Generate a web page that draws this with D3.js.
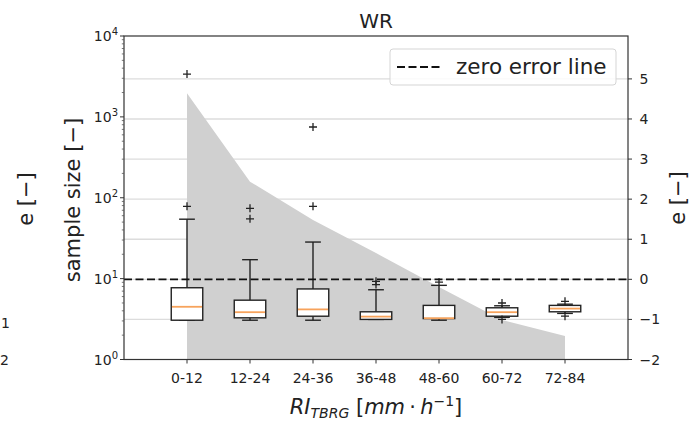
<!DOCTYPE html>
<html>
<head>
<meta charset="utf-8">
<script src="https://cdn.jsdelivr.net/npm/d3@7"></script>
<style>
  html, body { margin: 0; padding: 0; background: #fff; }
  svg { display: block; font-family: "DejaVu Sans", sans-serif; }
</style>
</head>
<body>
<svg id="chart" width="696" height="421"></svg>
<script>
// ---- data ----
const categories = ["0-12", "12-24", "24-36", "36-48", "48-60", "60-72", "72-84"];
const sampleSize = [1955, 158, 53, 20.7, 7.9, 3.08, 1.95];
const q1      = [-1.02, -0.96, -0.92, -1.00, -0.98, -0.92, -0.81];
const median  = [-0.685, -0.82, -0.75, -0.93, -0.97, -0.82, -0.73];
const q3      = [-0.21, -0.52, -0.24, -0.81, -0.65, -0.71, -0.65];
const whiskLo = [-1.02, -1.02, -1.02, -1.00, -1.02, -0.95, -0.85];
const whiskHi = [1.50, 0.49, 0.93, -0.26, -0.15, -0.66, -0.62];
const fliers  = [[1.82, 5.12], [1.51, 1.77], [1.82, 3.80], [-0.13, -0.05], [-0.07], [-0.59, -1.00], [-0.55, -0.92]];
const leftTicks = [1, 10, 100, 1000, 10000];
const leftExp = ["0", "1", "2", "3", "4"];
const rightTicks = [-2, -1, 0, 1, 2, 3, 4, 5];
const gridTicks = [-1, 0, 1, 2, 3, 4, 5];

// ---- layout ----
const L = 124, R = 628, T = 36, B = 359.5;
const svg = d3.select("#chart");
const x = d3.scaleLinear().domain([0, 8]).range([L, R]);
const yL = d3.scaleLog().domain([1, 10000]).range([B, T]);
const yR = d3.scaleLinear().domain([-2, 6.07]).range([B, T]);
const pos = (i) => x(i + 1);
const bw = x(0.5) - x(0);
const cw = bw / 2;
const minus = (v) => (v < 0 ? "\u2212" + Math.abs(v) : String(v));

// grid lines (right axis)
svg.append("g").selectAll("line").data(gridTicks).join("line")
  .attr("x1", L).attr("x2", R)
  .attr("y1", d => yR(d)).attr("y2", d => yR(d))
  .attr("stroke", "#dcdcdc").attr("stroke-width", 1.3);

// sample size fill
const area = d3.area()
  .x((d, i) => pos(i))
  .y0(yL(1))
  .y1(d => yL(d));
svg.append("path").datum(sampleSize)
  .attr("d", area)
  .attr("fill", "#d0d0d0");

// boxes
const g = svg.append("g");
categories.forEach((c, i) => {
  const cx = pos(i);
  g.append("line").attr("x1", cx).attr("x2", cx).attr("y1", yR(q3[i])).attr("y2", yR(whiskHi[i]))
    .attr("stroke", "#222").attr("stroke-width", 1.4);
  g.append("line").attr("x1", cx).attr("x2", cx).attr("y1", yR(q1[i])).attr("y2", yR(whiskLo[i]))
    .attr("stroke", "#222").attr("stroke-width", 1.4);
  [whiskHi[i], whiskLo[i]].forEach(v => {
    g.append("line").attr("x1", cx - cw / 2).attr("x2", cx + cw / 2).attr("y1", yR(v)).attr("y2", yR(v))
      .attr("stroke", "#222").attr("stroke-width", 1.4);
  });
  g.append("rect").attr("x", cx - bw / 2).attr("width", bw)
    .attr("y", yR(q3[i])).attr("height", yR(q1[i]) - yR(q3[i]))
    .attr("fill", "#fff").attr("stroke", "#222").attr("stroke-width", 1.4);
  g.append("line").attr("x1", cx - bw / 2 + 0.7).attr("x2", cx + bw / 2 - 0.7)
    .attr("y1", yR(median[i])).attr("y2", yR(median[i]))
    .attr("stroke", "#f7a35c").attr("stroke-width", 1.8);
  fliers[i].forEach(v => {
    const fy = yR(v);
    g.append("path").attr("d", `M${cx - 4},${fy}H${cx + 4}M${cx},${fy - 4}V${fy + 4}`)
      .attr("stroke", "#222").attr("stroke-width", 1.3).attr("fill", "none");
  });
});

// zero error line
svg.append("line").attr("x1", L).attr("x2", R).attr("y1", yR(0)).attr("y2", yR(0))
  .attr("stroke", "#111").attr("stroke-width", 1.8).attr("stroke-dasharray", "8,3.5");

// spines
svg.append("rect").attr("x", L).attr("y", T).attr("width", R - L).attr("height", B - T)
  .attr("fill", "none").attr("stroke", "#333").attr("stroke-width", 1.2);

// left axis ticks (log)
const lg = svg.append("g");
leftTicks.forEach((t, i) => {
  const yy = yL(t);
  lg.append("line").attr("x1", L - 4).attr("x2", L).attr("y1", yy).attr("y2", yy).attr("stroke", "#333").attr("stroke-width", 1);
  const tx = lg.append("text").attr("x", L - 6).attr("y", yy + 5).attr("text-anchor", "end")
    .attr("font-size", 14).attr("fill", "#222");
  tx.append("tspan").text("10");
  tx.append("tspan").attr("font-size", 10).attr("dy", -6).text(leftExp[i]);
});
for (let e = 0; e < 4; e++) {
  for (let m = 2; m <= 9; m++) {
    const yy = yL(m * Math.pow(10, e));
    lg.append("line").attr("x1", L - 2.2).attr("x2", L).attr("y1", yy).attr("y2", yy).attr("stroke", "#555").attr("stroke-width", 0.8);
  }
}

// right axis
const rg = svg.append("g");
rightTicks.forEach(t => {
  const yy = yR(t);
  rg.append("line").attr("x1", R).attr("x2", R + 4).attr("y1", yy).attr("y2", yy).attr("stroke", "#333").attr("stroke-width", 1);
  rg.append("text").attr("x", R + 11.5).attr("y", yy + 5).attr("font-size", 14).attr("fill", "#222").text(minus(t));
});

// x axis
const xg = svg.append("g");
categories.forEach((c, i) => {
  const xx = pos(i);
  xg.append("line").attr("x1", xx).attr("x2", xx).attr("y1", B).attr("y2", B + 4).attr("stroke", "#333").attr("stroke-width", 1);
  xg.append("text").attr("x", xx).attr("y", 382.5).attr("text-anchor", "middle").attr("font-size", 14).attr("fill", "#222").text(c);
});

// title
svg.append("text").attr("x", (L + R) / 2).attr("y", 28).attr("text-anchor", "middle")
  .attr("font-size", 20).attr("fill", "#222").text("WR");

// axis labels
svg.append("text").attr("transform", "translate(80,200) rotate(-90)").attr("text-anchor", "middle")
  .attr("font-size", 21).attr("fill", "#222").text("sample size [\u2212]");
svg.append("text").attr("transform", "translate(33,199) rotate(-90)").attr("text-anchor", "middle")
  .attr("font-size", 21).attr("fill", "#222").text("e [\u2212]");
svg.append("text").attr("transform", "translate(685,198) rotate(-90)").attr("text-anchor", "middle")
  .attr("font-size", 21).attr("fill", "#222").text("e [\u2212]");

const xl = svg.append("text").attr("x", 376).attr("y", 414).attr("text-anchor", "middle")
  .attr("font-size", 21).attr("fill", "#222").attr("font-style", "italic");
xl.append("tspan").text("RI");
xl.append("tspan").attr("font-size", 14).attr("dy", 4).text("TBRG");
xl.append("tspan").attr("dy", -4).attr("font-style", "normal").text(" [");
xl.append("tspan").text("mm");
xl.append("tspan").attr("font-style", "normal").text("\u2009\u00b7\u2009");
xl.append("tspan").text("h");
xl.append("tspan").attr("font-size", 14).attr("dy", -8).attr("font-style", "normal").text("\u22121");
xl.append("tspan").attr("dy", 8).attr("font-style", "normal").text("]");

// left remnants of neighbouring panel
svg.append("text").attr("x", 1).attr("y", 328).attr("font-size", 14).attr("fill", "#222").text("1");
svg.append("text").attr("x", 0).attr("y", 365).attr("font-size", 14).attr("fill", "#222").text("2");

// legend
const lgd = svg.append("g");
lgd.append("rect").attr("x", 390).attr("y", 49).attr("width", 226).attr("height", 36).attr("rx", 3)
  .attr("fill", "#fff").attr("fill-opacity", 0.85).attr("stroke", "#d5d5d5").attr("stroke-width", 1);
lgd.append("line").attr("x1", 397).attr("x2", 440).attr("y1", 67).attr("y2", 67)
  .attr("stroke", "#111").attr("stroke-width", 1.8).attr("stroke-dasharray", "8,3.5");
lgd.append("text").attr("x", 456).attr("y", 74).attr("font-size", 21.5).attr("fill", "#222").text("zero error line");
</script>
</body>
</html>
